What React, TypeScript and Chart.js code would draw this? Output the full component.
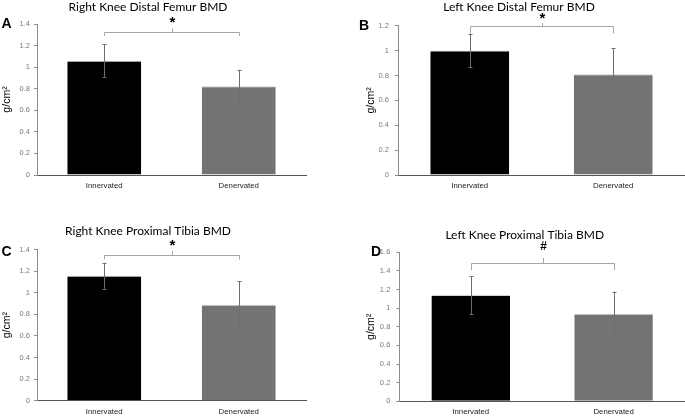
import React, { useEffect, useRef } from "react";
import { Chart, registerables } from "chart.js";
Chart.register(...registerables);

// ---- data ----
const categories = ["Innervated", "Denervated"];

const rightFemurMeans = [1.06, 0.822];
const rightFemurErrors = [0.15, 0.153];
const leftFemurMeans = [1.0, 0.81];
const leftFemurErrors = [0.135, 0.21];
const rightTibiaMeans = [1.158, 0.89];
const rightTibiaErrors = [0.12, 0.22];
const leftTibiaMeans = [1.142, 0.941];
const leftTibiaErrors = [0.204, 0.236];

const panelTitles = [
  "Right Knee Distal Femur BMD",
  "Left Knee Distal Femur BMD",
  "Right Knee Proximal Tibia BMD",
  "Left Knee Proximal Tibia BMD",
];
const panelLetters = ["A", "B", "C", "D"];
const yMaxValues = [1.4, 1.2, 1.4, 1.6];
const yStep = 0.2;
const significanceMarks = ["*", "*", "*", "#"];
const bracketLevels = [1.328, 1.198, 1.35, 1.486];
const yAxisTitle = "g/cm²";

const panelMeans = [rightFemurMeans, leftFemurMeans, rightTibiaMeans, leftTibiaMeans];
const panelErrors = [rightFemurErrors, leftFemurErrors, rightTibiaErrors, leftTibiaErrors];

const barColors = ["#000000", "#737373"];

// ---- layout (pixels, relative to each panel canvas) ----
type Layout = {
  x: number; y: number; w: number; h: number;
  areaLeft: number; areaRight: number; areaTop: number; areaBottom: number;
  tickPad: number; titlePad: number;
  titleX: number; titleY: number; letterX: number; letterY: number;
  markY: number; drop: number; rise: number;
};

const layouts: Layout[] = [
  { x: 0, y: 0, w: 342, h: 208, areaLeft: 37, areaRight: 306, areaTop: 24, areaBottom: 175,
    tickPad: 4, titlePad: 1, titleX: 148, titleY: 7, letterX: 1.5, letterY: 24.5, markY: 21, drop: 3.5, rise: 4 },
  { x: 342, y: 0, w: 343, h: 208, areaLeft: 56, areaRight: 343, areaTop: 25.7, areaBottom: 175,
    tickPad: 6, titlePad: 23, titleX: 177, titleY: 7, letterX: 17, letterY: 26.5, markY: 17, drop: 7, rise: 3.5 },
  { x: 0, y: 208, w: 342, h: 208, areaLeft: 37, areaRight: 306, areaTop: 41.7, areaBottom: 192.7,
    tickPad: 4, titlePad: 1, titleX: 148, titleY: 23.5, letterX: 1.5, letterY: 44, markY: 36, drop: 4, rise: 4.5 },
  { x: 342, y: 208, w: 343, h: 208, areaLeft: 57.3, areaRight: 343, areaTop: 44.3, areaBottom: 193.3,
    tickPad: 6, titlePad: 23, titleX: 182.7, titleY: 27, letterX: 29, letterY: 44.5, markY: 38.5, drop: 6.5, rise: 5.5 },
];

function makeDecorPlugin(i: number) {
  const L = layouts[i];
  return {
    id: "decor" + i,
    afterDatasetsDraw(chart: any) {
      const ctx = chart.ctx;
      const yScale = chart.scales.y;
      const meta = chart.getDatasetMeta(0);
      const errs = panelErrors[i];
      const means = panelMeans[i];
      ctx.save();
      // error bars
      ctx.strokeStyle = "#6e6e6e";
      ctx.lineWidth = 1;
      meta.data.forEach((bar: any, k: number) => {
        const cx = Math.round(bar.x) + 0.5;
        const yTop = yScale.getPixelForValue(means[k] + errs[k]);
        const yBot = yScale.getPixelForValue(means[k] - errs[k]);
        ctx.beginPath();
        ctx.moveTo(cx, yTop);
        ctx.lineTo(cx, yBot);
        ctx.moveTo(cx - 2, Math.round(yTop) + 0.5);
        ctx.lineTo(cx + 2, Math.round(yTop) + 0.5);
        ctx.moveTo(cx - 2, Math.round(yBot) + 0.5);
        ctx.lineTo(cx + 2, Math.round(yBot) + 0.5);
        ctx.stroke();
      });
      // significance bracket
      const by = Math.round(yScale.getPixelForValue(bracketLevels[i])) + 0.5;
      const x1 = Math.round(meta.data[0].x) + 0.5;
      const x2 = Math.round(meta.data[1].x) + 0.5;
      const xm = Math.round((x1 + x2) / 2) + 0.5;
      ctx.strokeStyle = "#a6a6a6";
      ctx.beginPath();
      ctx.moveTo(x1, by + L.drop);
      ctx.lineTo(x1, by);
      ctx.lineTo(x2, by);
      ctx.lineTo(x2, by + L.drop);
      ctx.moveTo(xm, by);
      ctx.lineTo(xm, by - L.rise);
      ctx.stroke();
      // significance mark
      ctx.fillStyle = "#000";
      ctx.textAlign = "center";
      ctx.textBaseline = "middle";
      ctx.font = significanceMarks[i] === "*" ? "bold 15px 'Liberation Sans'" : "bold 12px 'Liberation Sans'";
      ctx.fillText(significanceMarks[i], xm, L.markY + (significanceMarks[i] === "*" ? 2 : 0));
      // title
      ctx.font = "12px Lato";
      ctx.fillText(panelTitles[i], L.titleX, L.titleY);
      // panel letter
      ctx.font = "bold 14px 'Liberation Sans'";
      ctx.textAlign = "left";
      ctx.fillText(panelLetters[i], L.letterX, L.letterY);
      ctx.restore();
    },
  };
}

function Panel({ index }: { index: number }) {
  const ref = useRef<HTMLCanvasElement | null>(null);
  useEffect(() => {
    const L = layouts[index];
    const chart = new Chart(ref.current as HTMLCanvasElement, {
      type: "bar",
      data: {
        labels: categories,
        datasets: [
          {
            data: panelMeans[index],
            backgroundColor: barColors,
            borderColor: "#d0d0d0",
            borderWidth: { top: 1, left: 0, right: 0, bottom: 0 },
            barPercentage: 0.55,
            categoryPercentage: 1,
          },
        ],
      },
      options: {
        animation: false,
        responsive: false,
        maintainAspectRatio: false,
        devicePixelRatio: 1,
        layout: { padding: { top: L.areaTop, right: L.w - L.areaRight, left: 0, bottom: 0 } },
        plugins: { legend: { display: false }, tooltip: { enabled: false }, title: { display: false } },
        scales: {
          x: {
            grid: { display: false, drawTicks: false },
            border: { display: true, color: "#555555", width: 1 },
            ticks: { padding: 6, color: "#222", font: { family: "'Liberation Sans'", size: 7.8 } },
            afterFit: (s: any) => { s.height = L.h - L.areaBottom; },
          },
          y: {
            min: 0,
            max: yMaxValues[index],
            ticks: {
              stepSize: yStep,
              padding: L.tickPad,
              color: "#7a7a7a",
              font: { family: "'Liberation Sans'", size: 7.5 },
              callback: (v: any) => String(Math.round(Number(v) * 10) / 10),
            },
            grid: { display: true, drawOnChartArea: false, tickLength: 3, color: "#8c8c8c" },
            border: { display: true, color: "#8c8c8c", width: 1 },
            title: {
              display: true,
              text: yAxisTitle,
              color: "#000",
              font: { family: "'Liberation Sans'", size: 10.5 },
              padding: { top: L.titlePad, bottom: 0 },
            },
            afterFit: (s: any) => { s.width = L.areaLeft; },
          },
        },
      },
      plugins: [makeDecorPlugin(index)],
    } as any);
    return () => chart.destroy();
  }, [index]);
  const L = layouts[index];
  return (
    <canvas
      ref={ref}
      width={L.w}
      height={L.h}
      style={{ position: "absolute", left: L.x, top: L.y, width: L.w, height: L.h }}
    />
  );
}

export default function App() {
  return (
    <div style={{ position: "fixed", left: 0, top: 0, width: 685, height: 416, background: "#fff", overflow: "hidden" }}>
      {[0, 1, 2, 3].map((i) => (
        <Panel key={i} index={i} />
      ))}
    </div>
  );
}
